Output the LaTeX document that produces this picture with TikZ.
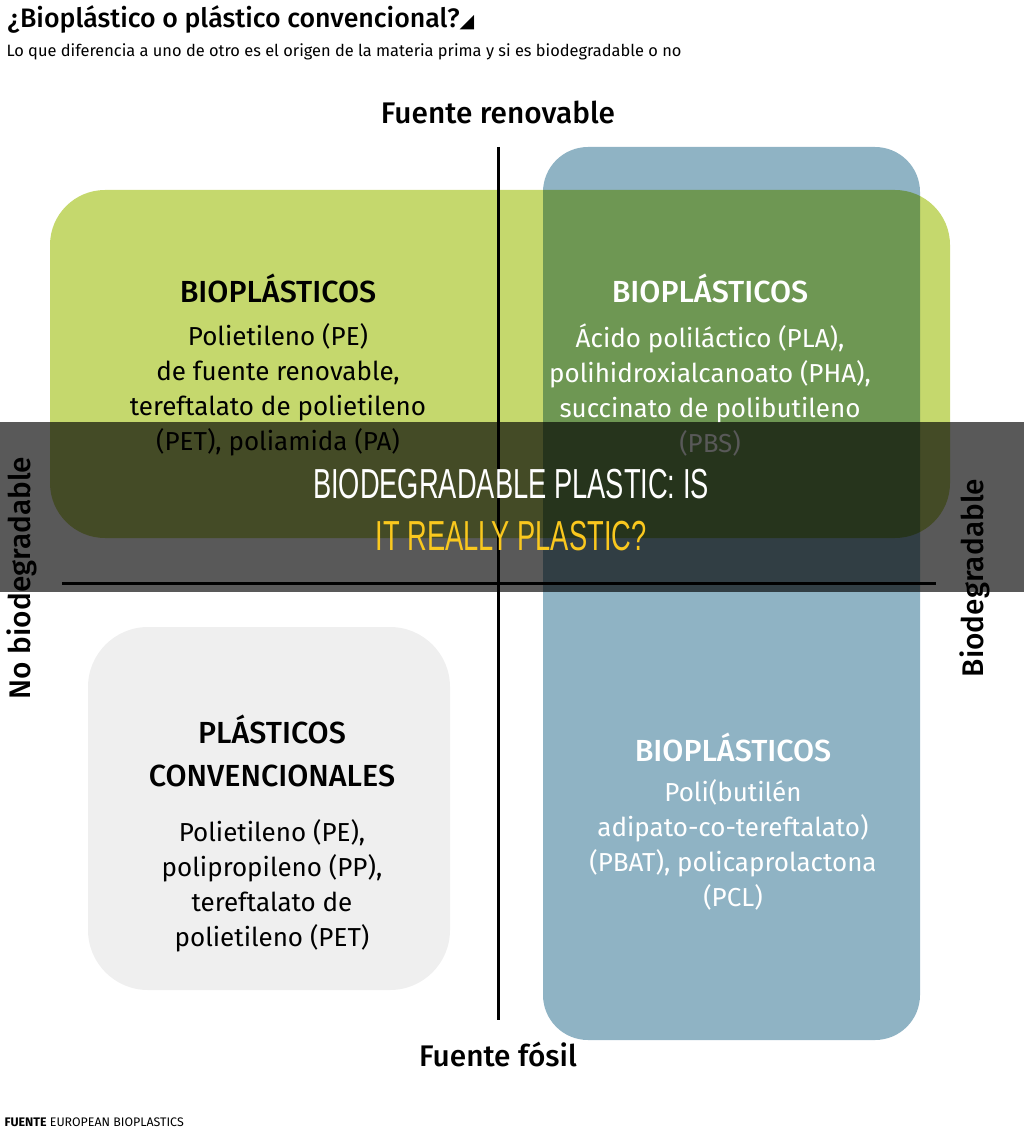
\documentclass[tikz,border=0pt]{standalone}
\usepackage{fontspec}
\setmainfont{Fira Sans}
\newfontfamily\medfont{Fira Sans Medium}
\newfontfamily\symfont{DejaVu Sans}
\newfontfamily\bannerfont[FakeStretch=0.65]{Liberation Sans}
\usetikzlibrary{positioning}

\definecolor{bioGreen}{RGB}{197,216,109}
\definecolor{bioBlue}{RGB}{143,179,196}
\definecolor{convGray}{RGB}{239,239,239}
\definecolor{bannerYellow}{RGB}{250,200,30}

\begin{document}
\begin{tikzpicture}[x=1pt, y=-1pt,
    blob/.style={rounded corners=55pt},
    head/.style={font=\medfont\fontsize{30.5}{43}\selectfont, align=center},
    body/.style={font=\fontsize{26}{35}\selectfont, align=center},
    axislbl/.style={font=\medfont\fontsize{29.8}{30}\selectfont},
    axisline/.style={line width=3pt},
    banner/.style={font=\bannerfont\fontsize{42}{44}\selectfont}
]
\useasboundingbox (0,0) rectangle (1024,1131);

% quadrant areas
\fill[bioGreen, blob] (50,190) rectangle (950,538);
\fill[convGray, rounded corners=60pt] (88,627) rectangle (450,990);
\fill[bioBlue, rounded corners=45pt, blend mode=multiply] (543,147) rectangle (920,1040);

% axes
\coordinate (renTop) at (498,147);
\coordinate (fosBot) at (498,1020);
\coordinate (noBio) at (62,583);
\coordinate (bio) at (936,583);
\draw[axisline] (renTop) -- (fosBot);
\draw[axisline] (noBio) -- (bio);

\node[axislbl] (renLbl) at (498,112) {Fuente renovable};
\node[axislbl] (fosLbl) at (498,1054) {Fuente fósil};
\node[axislbl, rotate=90] (noBioLbl) at (22,578) {No biodegradable};
\node[axislbl, rotate=90] (bioLbl) at (975,578) {Biodegradable};

% quadrant texts
\node[head] (tlHead) at (278,288) {BIOPLÁSTICOS};
\node[body] (tlBody) at (278,390) {Polietileno (PE)\\de fuente renovable,\\tereftalato de polietileno\\(PET), poliamida (PA)};

\node[head, text=white] (trHead) at (710,288) {BIOPLÁSTICOS};
\node[body, text=white] (trBody) at (710,390) {Ácido poliláctico (PLA),\\polihidroxialcanoato (PHA),\\succinato de polibutileno\\(PBS)};

\node[head] (blHead) at (272,751) {PLÁSTICOS\\CONVENCIONALES};
\node[body] (blBody) at (272,886) {Polietileno (PE),\\polipropileno (PP),\\tereftalato de\\polietileno (PET)};

\node[head, text=white] (brHead) at (733,747) {BIOPLÁSTICOS};
\node[body, text=white] (brBody) at (733,845) {Poli(butilén\\adipato-co-tereftalato)\\(PBAT), policaprolactona\\(PCL)};

% title, subtitle, source
\node[anchor=base west, font=\medfont\fontsize{26.7}{28}\selectfont] (title) at (4,28)
    {¿Bioplástico o plástico convencional?{\symfont\fontsize{19}{20}\selectfont ◢}};
\node[anchor=base west, font=\fontsize{16.4}{18}\selectfont] (subtitle) at (3,57)
    {Lo que diferencia a uno de otro es el origen de la materia prima y si es biodegradable o no};
\node[anchor=base west, font=\fontsize{12.4}{13}\selectfont] (source) at (1,1126)
    {\textbf{FUENTE} EUROPEAN BIOPLASTICS};

% banner on top
\fill[black, opacity=0.65] (0,422) rectangle (1024,592);
\node[banner, text=white] (bannerTop) at (511,484) {BIODEGRADABLE PLASTIC: IS};
\node[banner, text=bannerYellow] (bannerBot) at (511,536) {IT REALLY PLASTIC?};
\end{tikzpicture}
\end{document}
